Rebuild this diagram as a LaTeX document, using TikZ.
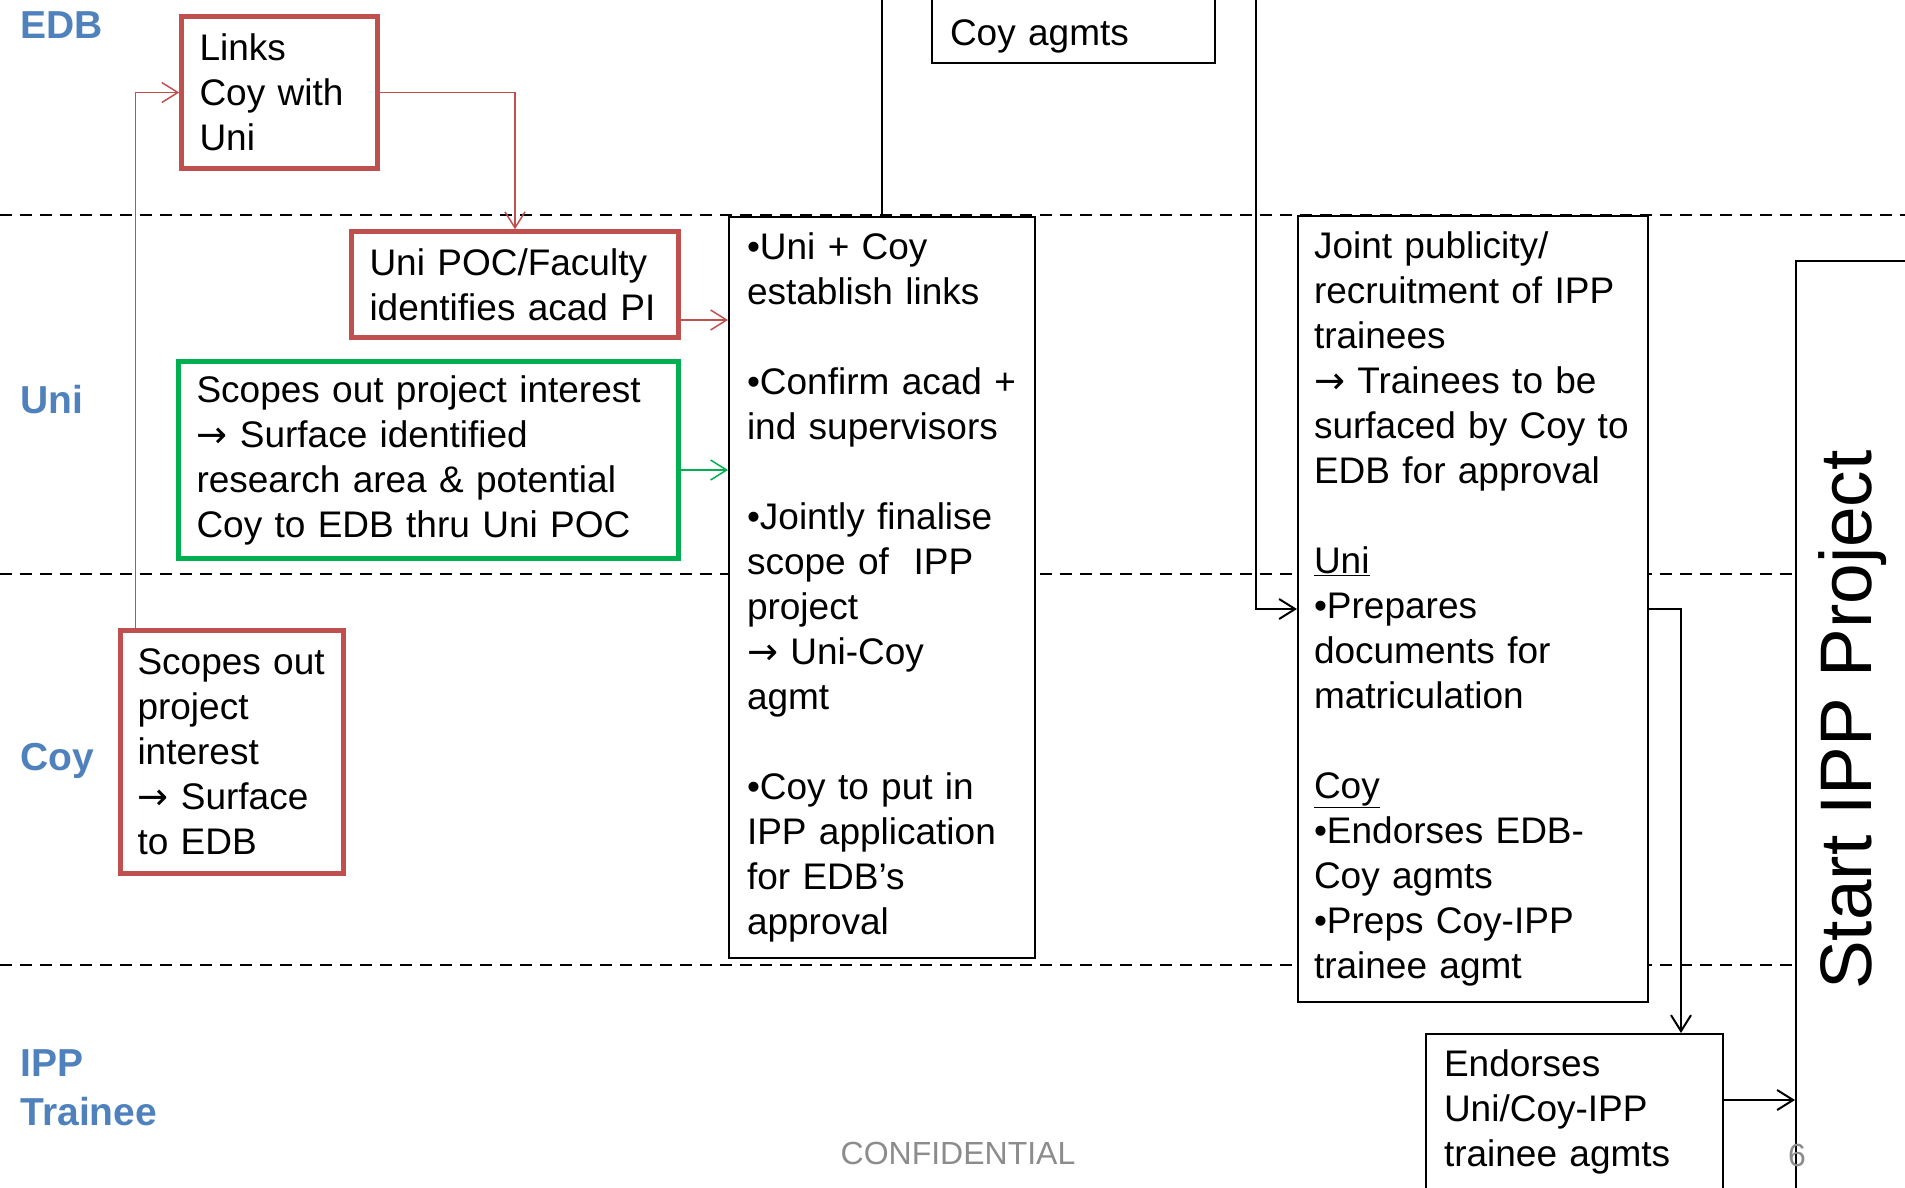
\documentclass[tikz,border=0pt]{standalone}
\usepackage{fontspec}
\setmainfont{Liberation Sans}
\newfontfamily\arrowfont{DejaVu Sans}
\newcommand\thenarrow{{\arrowfont →}}
\usetikzlibrary{arrows.meta}
\definecolor{boxred}{HTML}{C0504D}
\definecolor{boxgreen}{HTML}{00B050}
\definecolor{laneblue}{HTML}{4F81BD}
\definecolor{footgray}{HTML}{8C8C8C}

\begin{document}
\begin{tikzpicture}[
    x=1pt, y=-1pt,
    every node/.style={font=\fontsize{37}{45}\selectfont},
    box/.style={rectangle, draw=black, line width=2pt, fill=white, inner xsep=18pt, inner ysep=10pt, align=left},
    redbox/.style={box, draw=boxred, line width=4.5pt},
    greenbox/.style={box, draw=boxgreen, line width=4.5pt},
    lane/.style={anchor=west, align=left, text=laneblue, font=\fontsize{39}{49}\selectfont\bfseries},
    laneline/.style={line width=2pt, dash pattern=on 12pt off 8pt},
    arrow/.style={-{Straight Barb[length=16pt, width=20pt]}, line width=2pt},
    redarrow/.style={arrow, draw=boxred, line width=1.5pt},
    greenarrow/.style={arrow, draw=boxgreen, line width=1.5pt},
    foot/.style={text=footgray, font=\fontsize{32}{38}\selectfont}
]
\useasboundingbox (0,0) rectangle (1905,1187);

% swimlanes
\draw[laneline] (0,215) -- (1905,215);
\draw[laneline] (0,574) -- (1905,574);
\draw[laneline] (0,965) -- (1905,965);

\node[lane] (edb)     at (17,25)   {EDB};
\node[lane] (uni)     at (17,400)  {Uni};
\node[lane] (coy)     at (17,761)  {Coy};
\node[lane] (trainee) at (17,1088) {IPP\\Trainee};

% steps
\node[redbox, text width=160pt, minimum height=152pt] (links) at (279.5,92.5) {Links\\Coy with\\Uni};
\node[redbox, text width=291pt, minimum height=106pt] (poc) at (515,284.5) {Uni POC/Faculty\\identifies acad PI};
\node[greenbox, text width=464pt, minimum height=197pt] (scope) at (428.5,460) {Scopes out project interest\\\thenarrow\ Surface identified\\research area \& potential\\Coy to EDB thru Uni POC};
\node[redbox, inner xsep=17pt, text width=189pt, minimum height=243pt] (coyscope) at (232,752) {Scopes out\\project\\interest\\\thenarrow\ Surface\\to EDB};

\node[box, text width=270pt, minimum height=741pt] (mid) at (882,587.5) {•Uni + Coy\\establish links\\[45pt]•Confirm acad +\\ind supervisors\\[45pt]•Jointly finalise\\scope of\ \ IPP\\project\\\thenarrow\ Uni-Coy\\agmt\\[45pt]•Coy to put in\\IPP application\\for EDB’s\\approval};
\node[box, text width=247pt, anchor=south] (agmts) at (1073.5,64) {\mbox{}\\\mbox{}\\Coy agmts};

\node[box, inner xsep=16pt, text width=318pt, minimum height=786pt] (right) at (1473,609) {Joint publicity/\\recruitment of IPP\\trainees\\\thenarrow\ Trainees to be\\surfaced by Coy to\\EDB for approval\\[45pt]\underline{Uni}\\•Prepares\\documents for\\matriculation\\[45pt]\underline{Coy}\\•Endorses EDB-\\Coy agmts\\•Preps Coy-IPP\\trainee agmt};
\node[box, text width=261pt, minimum height=155pt] (endorse) at (1574.5,1111.5) {Endorses\\Uni/Coy-IPP\\trainee agmts};

\node[box, minimum width=110pt, minimum height=1038pt] (start) at (1851,780) {};
\node[rotate=90, font=\fontsize{73}{80}\selectfont] (starttext) at (1853,720) {Start IPP Project};

\coordinate (midtop) at (882,-20);
\coordinate (feedtop) at (1256,-20);

% connectors
\draw[redarrow] ([xshift=17pt]coyscope.north west) |- (links.west);
\draw[redarrow] (links.east) -| (poc.north);
\draw[redarrow] ([yshift=-35.5pt]poc.east) -- ([yshift=-35.5pt]poc.east -| mid.west);
\draw[greenarrow] ([yshift=-10pt]scope.east) -- ([yshift=-10pt]scope.east -| mid.west);
\draw[line width=2pt] (mid.north) -- (midtop);
\draw[arrow] (feedtop) |- (right.west);
\draw[arrow] (right.east) -| ([xshift=-43pt]endorse.north east);
\draw[arrow] ([yshift=11.5pt]endorse.east) -- ([yshift=11.5pt]endorse.east -| start.west);

% footer
\node[foot] (conf) at (958,1153) {CONFIDENTIAL};
\node[foot] (page) at (1797,1155) {6};

\end{tikzpicture}
\end{document}
